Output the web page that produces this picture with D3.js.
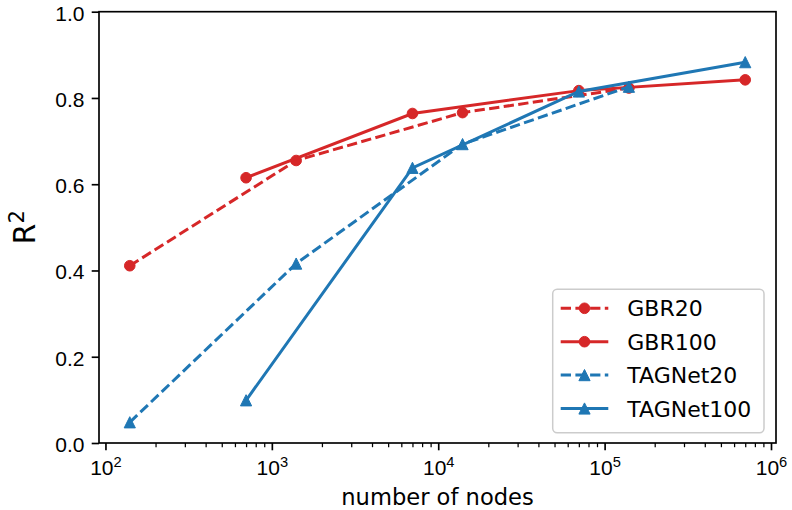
<!DOCTYPE html>
<html>
<head>
<meta charset="utf-8">
<script src="https://cdn.jsdelivr.net/npm/d3@7"></script>
<style>
body { margin: 0; background: #ffffff; }
svg { font-family: "DejaVu Sans", sans-serif; }
</style>
</head>
<body>
<script>
// number of nodes used for the runs
var nodes20 = [140, 1400, 14000, 140000];
var nodes100 = [700, 7000, 70000, 700000];

// R^2 per model
var gbr20 = [0.411, 0.655, 0.766, 0.823];
var gbr100 = [0.615, 0.764, 0.817, 0.842];
var tagnet20 = [0.048, 0.416, 0.693, 0.826];
var tagnet100 = [0.099, 0.638, 0.815, 0.883];

var seriesNames = ["GBR20", "GBR100", "TAGNet20", "TAGNet100"];
var yTicks = [0, 0.2, 0.4, 0.6, 0.8, 1.0];
var xTicks = [1e2, 1e3, 1e4, 1e5, 1e6];
var xTickExp = ["2", "3", "4", "5", "6"];

var red = "#d62728";
var blue = "#1f77b4";

var series = [
    {name: seriesNames[0], x: nodes20, y: gbr20, color: red, dashed: true, marker: "circle"},
    {name: seriesNames[1], x: nodes100, y: gbr100, color: red, dashed: false, marker: "circle"},
    {name: seriesNames[2], x: nodes20, y: tagnet20, color: blue, dashed: true, marker: "triangle"},
    {name: seriesNames[3], x: nodes100, y: tagnet100, color: blue, dashed: false, marker: "triangle"}
];

function drawChart() {
    var width = 792;
    var height = 510;
    var left = 99, right = 776, top = 11.7, bottom = 443;

    var svg = d3.select("body")
        .append("svg")
        .attr("width", width)
        .attr("height", height);

    // matplotlib style 5% margin in log space
    var allX = nodes20.concat(nodes100);
    var ext = d3.extent(allX).map(Math.log10);
    var pad = (ext[1] - ext[0]) * 0.05;
    var x = d3.scaleLog()
        .domain([Math.pow(10, ext[0] - pad), Math.pow(10, ext[1] + pad)])
        .range([left, right]);

    var y = d3.scaleLinear()
        .domain([0, 1])
        .range([bottom, top]);

    // minor ticks on the log axis
    var minor = [];
    for (var d = 1; d <= 6; d++) {
        for (var m = 2; m <= 9; m++) {
            var v = m * Math.pow(10, d);
            if (v >= x.domain()[0] && v <= x.domain()[1]) minor.push(v);
        }
    }

    svg.append("g")
        .attr("transform", "translate(0," + bottom + ")")
        .call(d3.axisBottom(x).tickValues(minor).tickSize(4.2).tickFormat(""))
        .call(function (g) { g.select(".domain").remove(); })
        .selectAll("line")
        .style("stroke", "#000")
        .style("stroke-width", "1.25px");

    var xAxis = svg.append("g")
        .attr("transform", "translate(0," + bottom + ")")
        .call(d3.axisBottom(x).tickValues(xTicks).tickSize(7.3).tickFormat(""));
    xAxis.select(".domain").remove();
    xAxis.selectAll("line")
        .style("stroke", "#000")
        .style("stroke-width", "1.67px");

    var xLabels = xAxis.selectAll("text")
        .attr("y", 32)
        .attr("dy", 0)
        .style("font-size", "21px")
        .style("fill", "#000")
        .style("text-anchor", "middle");
    xLabels.append("tspan").text("10");
    xLabels.append("tspan")
        .attr("dy", -8.5)
        .style("font-size", "14.7px")
        .text(function (d, i) { return xTickExp[i]; });

    var yAxis = svg.append("g")
        .attr("transform", "translate(" + left + ",0)")
        .call(d3.axisLeft(y).tickValues(yTicks).tickSize(7.3).tickPadding(7.3).tickFormat(d3.format(".1f")));
    yAxis.select(".domain").remove();
    yAxis.selectAll("line")
        .style("stroke", "#000")
        .style("stroke-width", "1.67px");
    yAxis.selectAll("text")
        .attr("dy", "0.4em")
        .style("font-size", "21px")
        .style("fill", "#000");

    // frame
    svg.append("rect")
        .attr("x", left)
        .attr("y", top)
        .attr("width", right - left)
        .attr("height", bottom - top)
        .style("fill", "none")
        .style("stroke", "#000")
        .style("stroke-width", "1.67px");

    var line = d3.line()
        .x(function (p) { return x(p[0]); })
        .y(function (p) { return y(p[1]); });

    function triangle(s) {
        return "M0," + (-s) + "L" + s + "," + s + "L" + (-s) + "," + s + "Z";
    }

    function addMarker(g, kind, color) {
        if (kind == "circle") {
            g.append("circle")
                .attr("r", 5.3)
                .style("fill", color)
                .style("stroke", color)
                .style("stroke-width", "1px");
        } else {
            g.append("path")
                .attr("d", triangle(5.6))
                .style("fill", color)
                .style("stroke", color)
                .style("stroke-width", "1px")
                .style("stroke-linejoin", "round");
        }
    }

    var plot = svg.append("g");

    series.forEach(function (s) {
        var pts = s.x.map(function (v, i) { return [v, s.y[i]]; });

        plot.append("path")
            .datum(pts)
            .attr("d", line)
            .style("fill", "none")
            .style("stroke", s.color)
            .style("stroke-width", "3px")
            .style("stroke-dasharray", s.dashed ? "10.3,4.4" : null);

        plot.selectAll("g.mk-" + s.name)
            .data(pts)
            .enter()
            .append("g")
            .attr("class", "mk-" + s.name)
            .attr("transform", function (p) { return "translate(" + x(p[0]) + "," + y(p[1]) + ")"; })
            .each(function () { addMarker(d3.select(this), s.marker, s.color); });
    });

    // axis titles
    svg.append("text")
        .attr("x", (left + right) / 2)
        .attr("y", 505)
        .style("text-anchor", "middle")
        .style("font-size", "22.6px")
        .style("fill", "#000")
        .text("number of nodes");

    var yTitle = svg.append("text")
        .attr("transform", "translate(35," + ((top + bottom) / 2) + ") rotate(-90)")
        .style("text-anchor", "middle")
        .style("font-size", "30px")
        .style("fill", "#000");
    yTitle.append("tspan").text("R");
    yTitle.append("tspan")
        .attr("dy", -11)
        .style("font-size", "21px")
        .text("2");

    // legend
    var legend = svg.append("g")
        .attr("transform", "translate(552.7,289.3)");

    legend.append("rect")
        .attr("width", 211.3)
        .attr("height", 143.4)
        .attr("rx", 4.4)
        .style("fill", "#fff")
        .style("fill-opacity", 0.8)
        .style("stroke", "#cccccc")
        .style("stroke-width", "1.5px");

    var rows = legend.selectAll("g.row")
        .data(series)
        .enter()
        .append("g")
        .attr("class", "row")
        .attr("transform", function (d, i) { return "translate(0," + (19 + i * 33.4) + ")"; });

    rows.append("line")
        .attr("x1", 8)
        .attr("x2", 55.6)
        .style("stroke", function (d) { return d.color; })
        .style("stroke-width", "3px")
        .style("stroke-dasharray", function (d) { return d.dashed ? "10.3,4.4" : null; });

    rows.append("g")
        .attr("transform", "translate(31.8,0)")
        .each(function (d) { addMarker(d3.select(this), d.marker, d.color); });

    rows.append("text")
        .attr("x", 74.6)
        .attr("y", 8)
        .style("font-size", "22px")
        .style("fill", "#000")
        .text(function (d) { return d.name; });
}

drawChart();
</script>
</body>
</html>
